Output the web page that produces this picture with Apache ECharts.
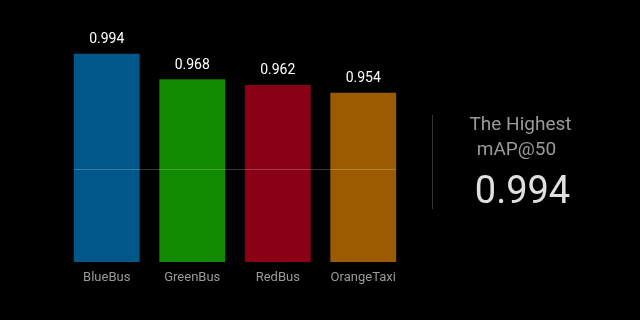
<!DOCTYPE html>
<html>
<head>
<meta charset="utf-8">
<script src="https://cdn.jsdelivr.net/npm/echarts@6/dist/echarts.min.js"></script>
<style>
html,body{margin:0;padding:0;background:#000;}
#c{width:640px;height:320px;}
</style>
</head>
<body>
<div id="c"></div>
<script>
const categories = ['BlueBus', 'GreenBus', 'RedBus', 'OrangeTaxi'];
const mapValues = [0.994, 0.968, 0.962, 0.954];
const barColors = ['#01578a', '#128a02', '#8a0014', '#9c5b00'];
const highestTitleLines = ['The Highest', 'mAP@50'];
const highestValue = Math.max(...mapValues).toFixed(3);

const chart = echarts.init(document.getElementById('c'), null, {renderer: 'canvas'});
chart.setOption({
  backgroundColor: '#000',
  animation: false,
  grid: [
    {left: 64, right: 234, top: 48, bottom: 58},
    {left: 74, right: 244, top: 77, bottom: 58}
  ],
  xAxis: [
    {
      type: 'category', gridIndex: 0, data: categories,
      axisLine: {show: false}, axisTick: {show: false},
      axisLabel: {color: '#9a9a9a', fontSize: 13, fontFamily: 'Roboto', margin: 9}
    },
    {type: 'value', gridIndex: 1, show: false}
  ],
  yAxis: [
    {type: 'value', gridIndex: 0, min: 0.78, max: 1.0, show: false},
    {
      type: 'value', gridIndex: 1, min: 0, max: 2, interval: 1, z: 5,
      axisLine: {show: false}, axisTick: {show: false}, axisLabel: {show: false},
      splitLine: {show: true, lineStyle: {color: ['transparent', 'rgba(255,255,255,0.22)'], width: 1}}
    }
  ],
  series: [{
    type: 'bar',
    xAxisIndex: 0, yAxisIndex: 0,
    barCategoryGap: '23%',
    data: mapValues.map((v, i) => ({value: v, itemStyle: {color: barColors[i]}})),
    label: {
      show: true, position: 'top', distance: 7,
      color: '#ffffff', fontSize: 14, fontFamily: 'Roboto',
      formatter: p => p.value.toFixed(3)
    }
  }],
  graphic: [
    {type: 'rect', shape: {x: 432, y: 115, width: 1, height: 94}, style: {fill: '#333'}},
    {type: 'text', x: 520.5, y: 125.5, style: {text: highestTitleLines[0], fill: '#9a9a9a', font: '19px Roboto', align: 'center', verticalAlign: 'middle'}},
    {type: 'text', x: 516.5, y: 150, style: {text: highestTitleLines[1], fill: '#9a9a9a', font: '19px Roboto', align: 'center', verticalAlign: 'middle'}},
    {type: 'text', x: 522.5, y: 193, style: {text: highestValue, fill: '#e0e0e0', font: '38px Roboto', align: 'center', verticalAlign: 'middle'}}
  ]
});
</script>
</body>
</html>
